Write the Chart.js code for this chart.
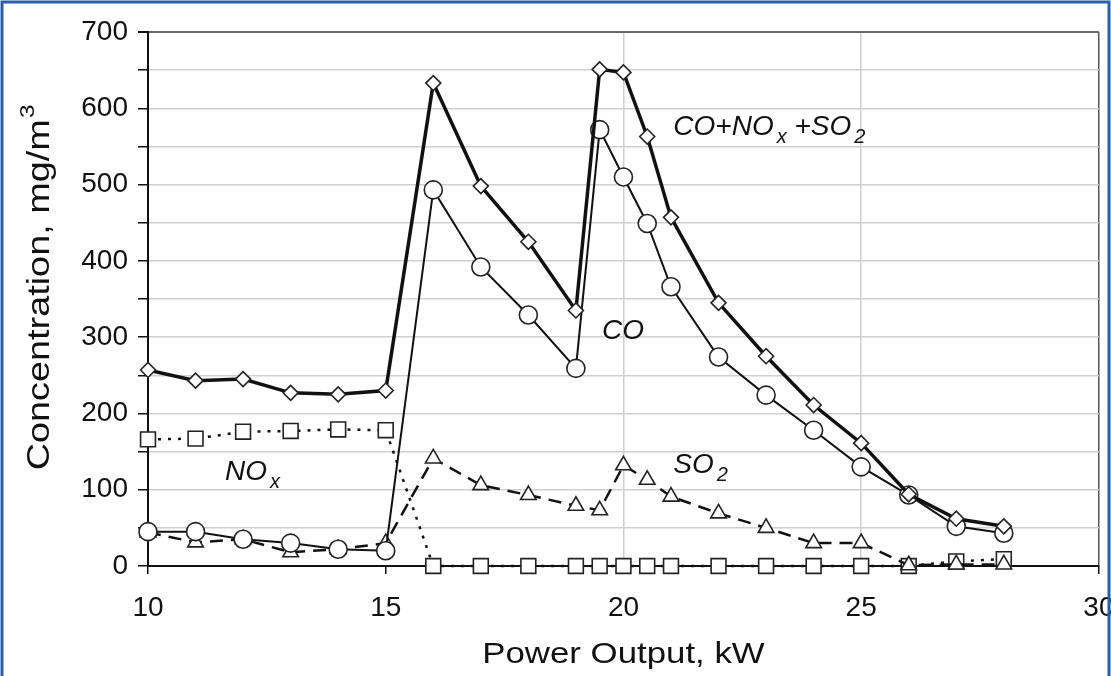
<!DOCTYPE html>
<html>
<head>
<meta charset="utf-8">
<script src="https://cdn.jsdelivr.net/npm/chart.js@4"></script>
<style>
  html, body { margin: 0; padding: 0; background: #fff; }
  #wrap { width: 1111px; height: 676px; position: relative; }
</style>
</head>
<body>
<div id="wrap"><canvas id="emChart"></canvas></div>
<script>
// Power output points, kW
const power = [10, 11, 12, 13, 14, 15, 16, 17, 18, 19, 19.5, 20, 20.5, 21, 22, 23, 24, 25, 26, 27, 28];

// Concentrations, mg/m3
const totalVals = [257, 243, 245, 227, 225, 230, 633, 498, 425, 335, 651, 647, 563, 457, 345, 275, 211, 161, 94, 62, 52];
const coVals    = [45, 45, 35, 30, 22, 20, 493, 392, 329, 259, 572, 510, 449, 366, 274, 224, 178, 130, 93, 52, 43];
const noxVals   = [166, 167, 176, 177, 179, 178, 0, 0, 0, 0, 0, 0, 0, 0, 0, 0, 0, 0, 0, 6, 9];
const so2Vals   = [44, 31, 35, 18, 22, 30, 141, 106, 93, 79, 73, 132, 113, 91, 69, 50, 30, 30, 1, 2, 2];

const xTicks = [10, 15, 20, 25, 30];
const yTickStep = 100;

const xTitle = 'Power Output, kW';
const yTitle = ['Concentration, mg/m', '3'];

const toPts = vals => power.map((p, i) => ({ x: p, y: vals[i] }));

// series labels placed in data space: [x, y, parts]
const curveLabels = [
  { x: 21.05, y: 565, parts: [['CO+NO', 0], ['x', 1], [' +SO', 0], ['2', 1]] },
  { x: 19.55, y: 298, parts: [['CO', 0]] },
  { x: 21.05, y: 122, parts: [['SO', 0], ['2', 1]] },
  { x: 11.62, y: 113, parts: [['NO', 0], ['x', 1]] }
];

const fontFam = '"Liberation Sans", Arial, sans-serif';

const pagePlugin = {
  id: 'page',
  beforeDraw(chart) {
    const ctx = chart.ctx;
    ctx.save();
    ctx.fillStyle = '#fff';
    ctx.fillRect(0, 0, chart.width, chart.height);
    ctx.restore();
  },
  afterDraw(chart) {
    const ctx = chart.ctx;
    const { x, y } = chart.scales;
    const area = chart.chartArea;
    ctx.save();
    ctx.fillStyle = '#111';

    // curve labels
    ctx.textBaseline = 'alphabetic';
    ctx.textAlign = 'left';
    curveLabels.forEach(lbl => {
      let px = x.getPixelForValue(lbl.x);
      const py = y.getPixelForValue(lbl.y);
      lbl.parts.forEach(([txt, sub]) => {
        ctx.font = sub ? 'italic 20px ' + fontFam : 'italic 28px ' + fontFam;
        const dy = sub ? 8 : 0;
        ctx.fillText(txt, px + (sub ? 3 : 0), py + dy);
        px += ctx.measureText(txt).width + (sub ? 3 : 0);
      });
    });

    // axis titles (slightly widened like the original figure)
    ctx.save();
    ctx.translate((area.left + area.right) / 2, 655);
    ctx.scale(1.16, 1);
    ctx.font = '30px ' + fontFam;
    ctx.textAlign = 'center';
    ctx.textBaseline = 'middle';
    ctx.fillText(xTitle, 0, 0);
    ctx.restore();

    ctx.save();
    ctx.translate(40, 288);
    ctx.rotate(-Math.PI / 2);
    ctx.scale(1.22, 1);
    ctx.font = '31px ' + fontFam;
    ctx.textBaseline = 'middle';
    const w1 = ctx.measureText(yTitle[0]).width;
    ctx.font = '20px ' + fontFam;
    const w2 = ctx.measureText(yTitle[1]).width;
    const start = -(w1 + w2) / 2;
    ctx.font = '31px ' + fontFam;
    ctx.textAlign = 'left';
    ctx.fillText(yTitle[0], start, 0);
    ctx.font = '20px ' + fontFam;
    ctx.fillText(yTitle[1], start + w1 + 1, -12);
    ctx.restore();

    // blue frame
    ctx.strokeStyle = '#2b5ea8';
    ctx.lineWidth = 3;
    ctx.beginPath();
    ctx.moveTo(2, chart.height);
    ctx.lineTo(2, 2);
    ctx.lineTo(chart.width - 2, 2);
    ctx.lineTo(chart.width - 2, chart.height);
    ctx.stroke();
    ctx.restore();
  }
};

const markerBase = {
  showLine: true,
  clip: false,
  borderColor: '#111',
  pointBorderWidth: 1.6,
  pointBackgroundColor: '#fff',
  pointBorderColor: '#222'
};

new Chart(document.getElementById('emChart'), {
  type: 'scatter',
  data: {
    datasets: [
      Object.assign({}, markerBase, {
        label: 'CO+NOx+SO2',
        data: toPts(totalVals),
        borderWidth: 3.5,
        pointStyle: 'rectRot',
        pointRadius: 7.5
      }),
      Object.assign({}, markerBase, {
        label: 'CO',
        data: toPts(coVals),
        borderWidth: 2,
        pointStyle: 'circle',
        pointRadius: 9
      }),
      Object.assign({}, markerBase, {
        label: 'SO2',
        data: toPts(so2Vals),
        borderWidth: 2.5,
        borderDash: [13, 8],
        pointStyle: 'triangle',
        pointRadius: 9
      }),
      Object.assign({}, markerBase, {
        label: 'NOx',
        data: toPts(noxVals),
        borderWidth: 2.5,
        borderDash: [3, 7],
        pointStyle: 'rect',
        pointRadius: 10.5
      })
    ]
  },
  options: {
    responsive: true,
    maintainAspectRatio: false,
    animation: false,
    layout: { padding: { left: 0, right: 12, top: 32, bottom: 0 } },
    plugins: { legend: { display: false }, tooltip: { enabled: false } },
    scales: {
      x: {
        type: 'linear',
        min: 10,
        max: 30,
        afterBuildTicks: s => { s.ticks = xTicks.map(v => ({ value: v })); },
        afterFit: s => { s.height = 110; s.paddingLeft = 0; s.paddingRight = 0; },
        ticks: {
          color: '#111',
          font: { family: fontFam, size: 28 },
          padding: 17,
          maxRotation: 0
        },
        grid: {
          color: c => (c.tick.value === 20 || c.tick.value === 25) ? '#cfcfcf' : (c.tick.value === 30 ? '#555' : 'rgba(0,0,0,0)'),
          lineWidth: 1.5,
          tickColor: '#111',
          tickLength: 8
        },
        border: { color: '#111', width: 2 }
      },
      y: {
        min: 0,
        max: 700,
        afterFit: s => { s.width = 148; s.paddingTop = 0; s.paddingBottom = 0; },
        ticks: {
          stepSize: 50,
          autoSkip: false,
          color: '#111',
          font: { family: fontFam, size: 28 },
          padding: 10,
          callback: v => v % yTickStep === 0 ? v : ''
        },
        grid: {
          color: c => c.tick.value === 700 ? '#666' : '#cfcfcf',
          lineWidth: c => c.tick.value === 700 ? 2 : 1.5,
          tickColor: '#111',
          tickLength: 10
        },
        border: { color: '#111', width: 2 }
      }
    }
  },
  plugins: [pagePlugin]
});
</script>
</body>
</html>
